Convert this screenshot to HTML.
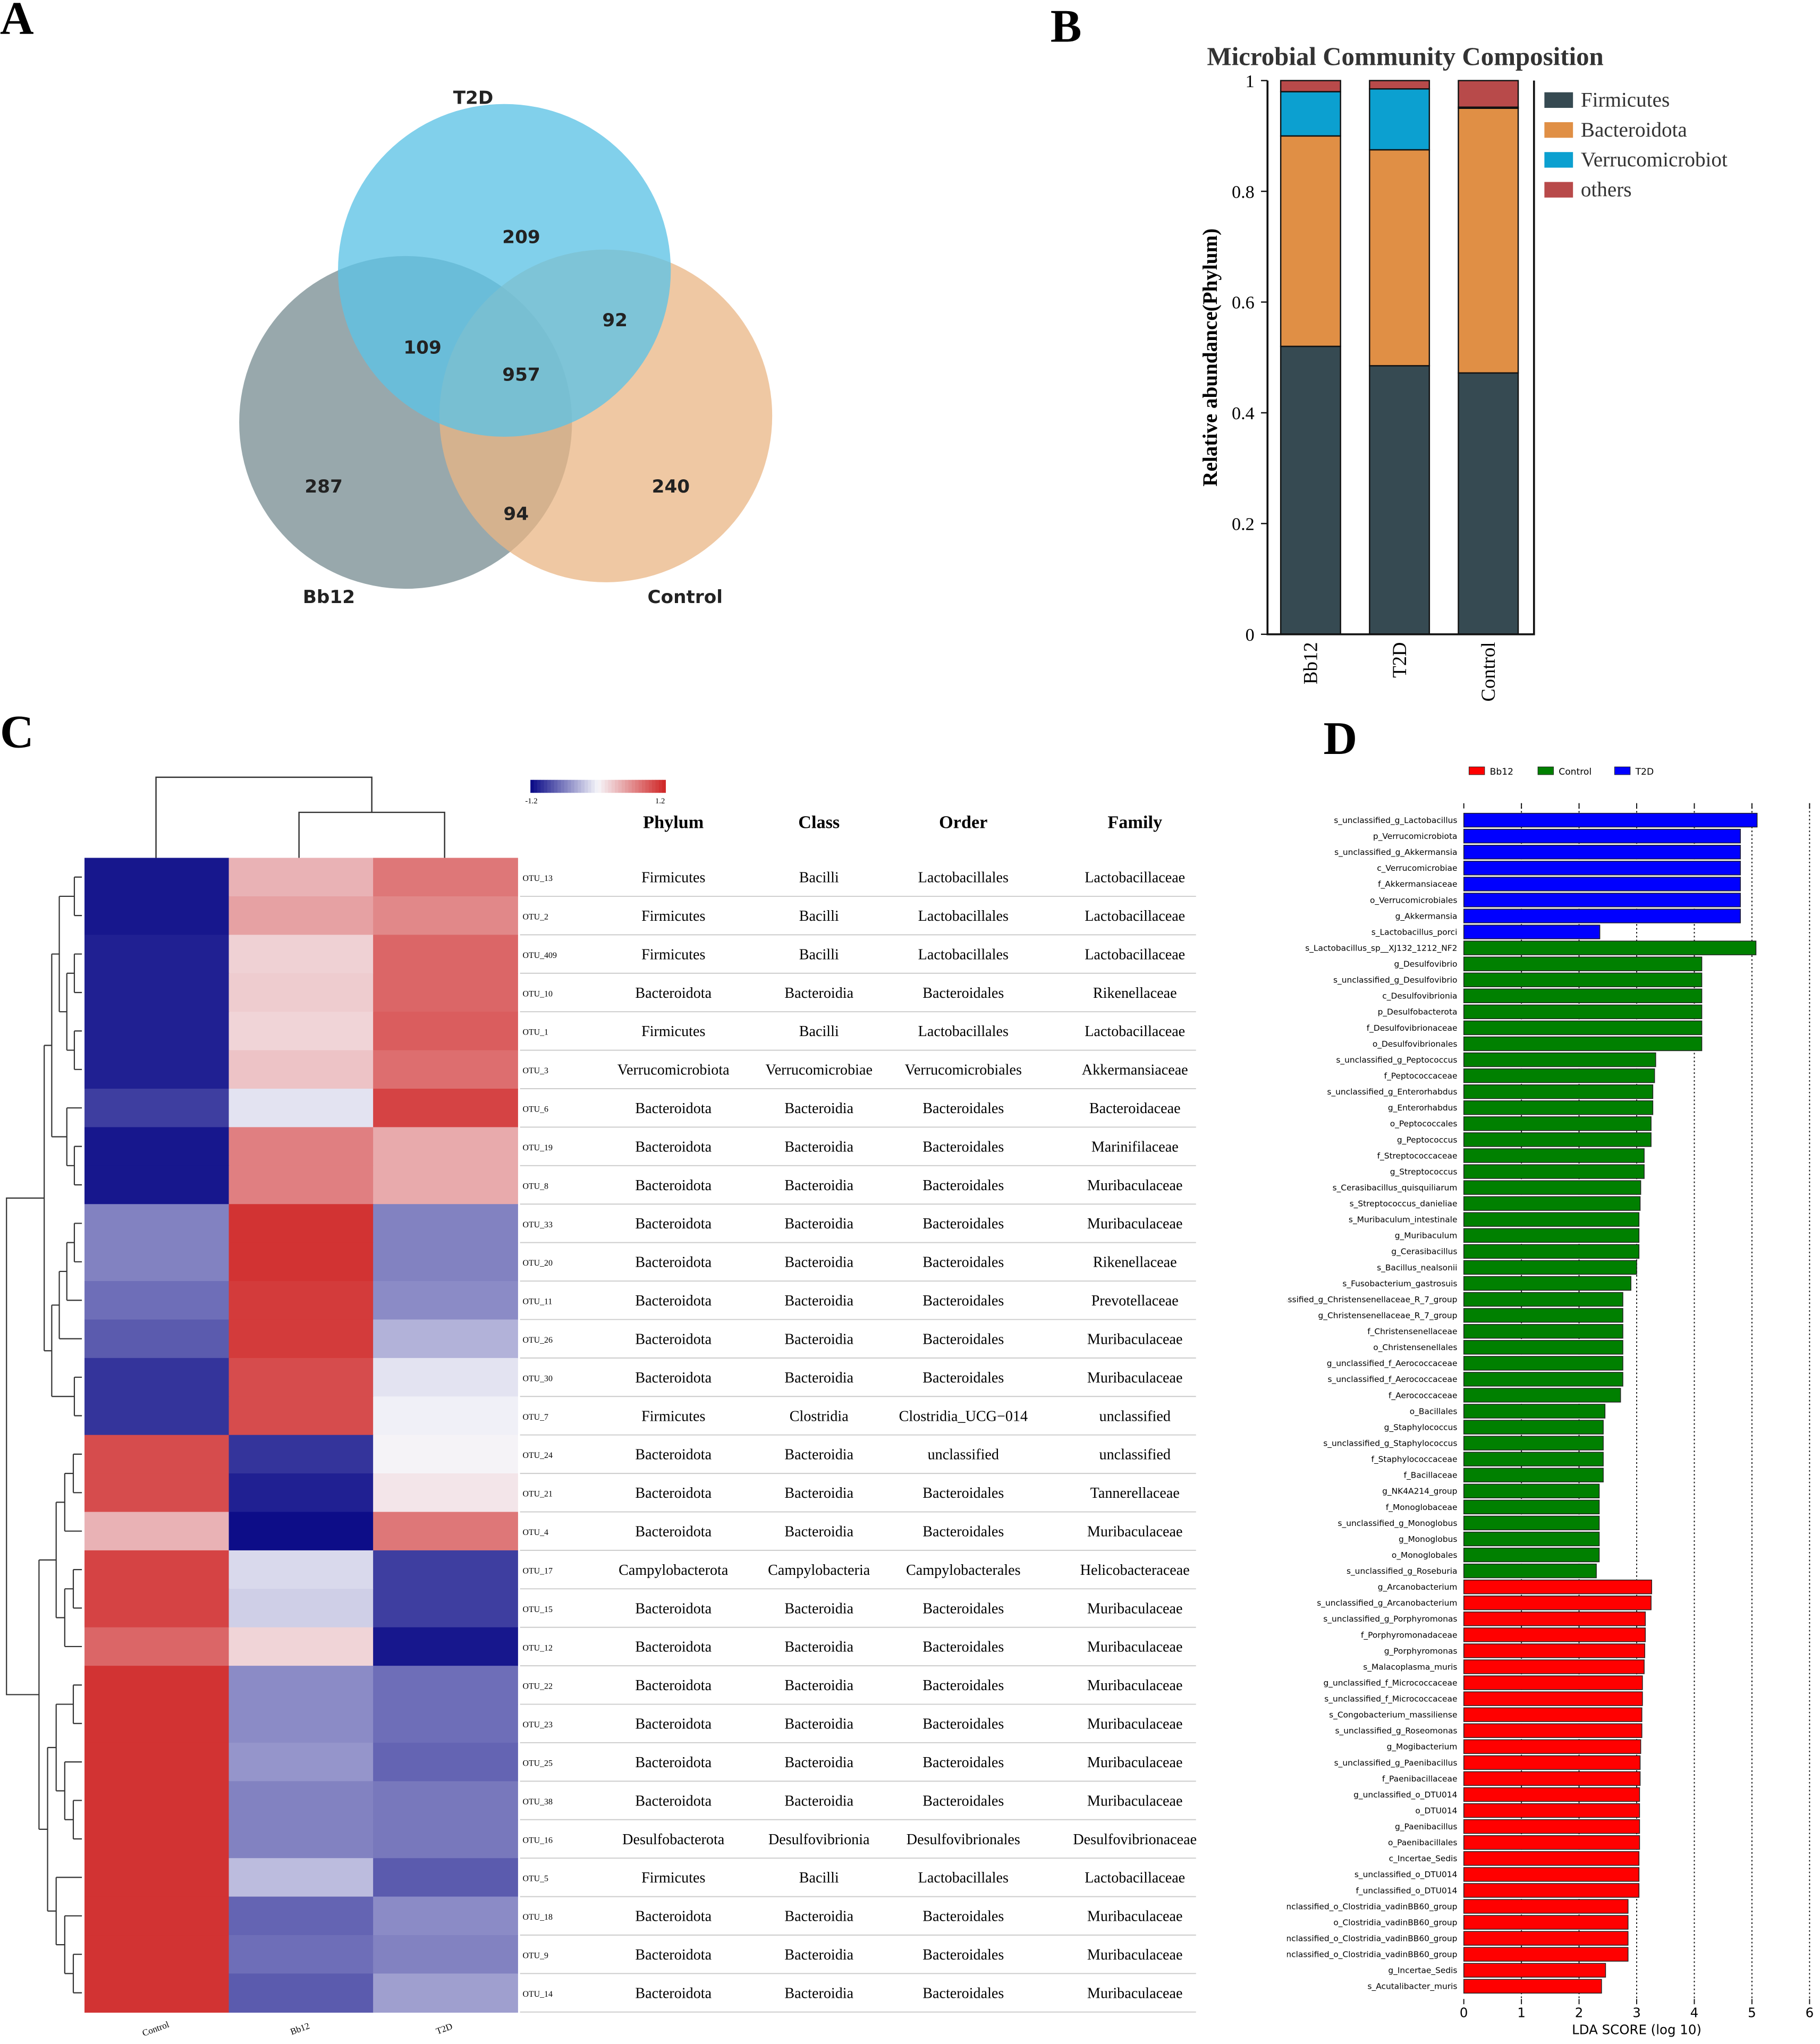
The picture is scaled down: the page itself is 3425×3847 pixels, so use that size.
<!DOCTYPE html>
<html><head><meta charset="utf-8"><style>
html,body{margin:0;padding:0;background:#fff;}
svg{display:block;}
</style></head><body>
<svg id="fig" xmlns="http://www.w3.org/2000/svg" width="3425" height="3847" viewBox="0 0 1400 1572.6" preserveAspectRatio="none">
<defs><clipPath id="ldaclip"><rect x="990" y="600" width="420" height="980"/></clipPath></defs>
<g font-family="Liberation Serif, serif" font-weight="bold" font-size="36" fill="#000">
<text x="0" y="26">A</text>
<text x="808" y="32">B</text>
<text x="0" y="575">C</text>
<text x="1018" y="580">D</text>
</g>
<!-- Venn -->
<g id="venn">
<circle cx="312" cy="325" r="128" fill="#7e9297" fill-opacity="0.8"/>
<circle cx="466" cy="320" r="128" fill="#eab584" fill-opacity="0.75"/>
<circle cx="388" cy="208" r="128" fill="#5ec3e6" fill-opacity="0.78"/>
<g font-family="DejaVu Sans, sans-serif" font-weight="bold" font-size="14" fill="#222" text-anchor="middle">
<text x="364" y="80">T2D</text>
<text x="253" y="464">Bb12</text>
<text x="527" y="464">Control</text>
<text x="401" y="187">209</text>
<text x="325" y="272">109</text>
<text x="473" y="251">92</text>
<text x="401" y="293">957</text>
<text x="249" y="379">287</text>
<text x="516" y="379">240</text>
<text x="397" y="400">94</text>
</g></g>
<g id="stack"></g>
<g id="heat"></g>
<g id="lda"></g>
</svg>
<script>
const NS="http://www.w3.org/2000/svg";
function mk(parent,tag,attrs,text){const e=document.createElementNS(NS,tag);for(const k in attrs)e.setAttribute(k,attrs[k]);if(text!==undefined)e.textContent=text;parent.appendChild(e);return e;}

// ===== Panel B data =====
const stackSamples=["Bb12","T2D","Control"];
const phyla=["Firmicutes","Bacteroidota","Verrucomicrobiota","others"];
const firmicutesVals=[0.52,0.485,0.472];
const bacteroidotaVals=[0.38,0.39,0.478];
const verrucoVals=[0.08,0.11,0.002];
const othersVals=[0.02,0.015,0.048];
const yTicksB=[0,0.2,0.4,0.6,0.8,1];
(function(){
 const g=document.getElementById('stack');
 const x0=975,x1=1180,yb=488,yt=62;
 const ys=v=>yb-(yb-yt)*v;
 const colors=["#364a52","#e08f45","#0ca0d0","#b84a4a"];
 const series=[firmicutesVals,bacteroidotaVals,verrucoVals,othersVals];
 const bw=46, step=(x1-x0)/3;
 stackSamples.forEach((s,i)=>{
  const cx=x0+step*(i+0.5)-1; let acc=0;
  series.forEach((ser,j)=>{
   const r=mk(g,'rect',{x:cx-bw/2,y:ys(acc+ser[i]),width:bw,height:ys(acc)-ys(acc+ser[i]),fill:colors[j],stroke:"#111","stroke-width":1});
   
   
   acc+=ser[i];
  });
  const t=mk(g,'text',{x:0,y:0,transform:`translate(${cx+5},${yb+6}) rotate(-90)`,"text-anchor":"end","font-family":"Liberation Serif, serif","font-size":15},s);
  
  
 });
 const ax=mk(g,'path',{d:`M${x0},${yt} V${yb} H${x1} V${yt}`,fill:"none",stroke:"#111","stroke-width":1.5});
 
 
 yTicksB.forEach(v=>{
  mk(g,'line',{x1:x0-5,x2:x0,y1:ys(v),y2:ys(v),stroke:"#111"});
  const t=mk(g,'text',{x:x0-10,y:ys(v)+5,"text-anchor":"end","font-family":"Liberation Serif, serif","font-size":14},String(v));
  
  
 });
 const yl=mk(g,'text',{x:0,y:0,transform:`translate(936,275) rotate(-90)`,"text-anchor":"middle","font-family":"Liberation Serif, serif","font-weight":"bold","font-size":16},"Relative abundance(Phylum)");
 
 
 const tt=mk(g,'text',{x:1081,y:50,"text-anchor":"middle","font-family":"Liberation Serif, serif","font-weight":"bold","font-size":20,fill:"#333"},"Microbial Community Composition");
 
 
 const legNames=["Firmicutes","Bacteroidota","Verrucomicrobiot","others"];
 legNames.forEach((n,j)=>{
  const y=77+j*23;
  const r=mk(g,'rect',{x:1188,y:y-6,width:22,height:12,fill:colors[j]});
  
  
  const t=mk(g,'text',{x:1216,y:y+5,"font-family":"Liberation Serif, serif","font-size":16,fill:"#333"},n);
  
  
 });
})();

// ===== Panel C data =====
const otuIds=["OTU_13","OTU_2","OTU_409","OTU_10","OTU_1","OTU_3","OTU_6","OTU_19","OTU_8","OTU_33","OTU_20","OTU_11","OTU_26","OTU_30","OTU_7","OTU_24","OTU_21","OTU_4","OTU_17","OTU_15","OTU_12","OTU_22","OTU_23","OTU_25","OTU_38","OTU_16","OTU_5","OTU_18","OTU_9","OTU_14"];
const heatColumns=["Control","Bb12","T2D"];
const controlZ=[-1.15,-1.15,-1.1,-1.1,-1.1,-1.1,-0.95,-1.15,-1.15,-0.6,-0.6,-0.7,-0.8,-1.0,-1.0,1.0,1.0,0.4,1.05,1.05,0.85,1.15,1.15,1.15,1.15,1.15,1.15,1.15,1.15,1.15];
const bb12Z=[0.4,0.5,0.22,0.25,0.2,0.3,-0.1,0.7,0.7,1.15,1.15,1.1,1.1,1.0,1.0,-1.0,-1.1,-1.2,-0.15,-0.2,0.2,-0.55,-0.55,-0.5,-0.6,-0.6,-0.3,-0.75,-0.7,-0.8];
const t2dZ=[0.75,0.65,0.85,0.85,0.9,0.8,1.05,0.45,0.45,-0.6,-0.6,-0.55,-0.35,-0.1,-0.03,0.02,0.1,0.75,-0.95,-0.95,-1.15,-0.7,-0.7,-0.75,-0.65,-0.65,-0.8,-0.55,-0.6,-0.45];
const phylumCol=["Firmicutes","Firmicutes","Firmicutes","Bacteroidota","Firmicutes","Verrucomicrobiota","Bacteroidota","Bacteroidota","Bacteroidota","Bacteroidota","Bacteroidota","Bacteroidota","Bacteroidota","Bacteroidota","Firmicutes","Bacteroidota","Bacteroidota","Bacteroidota","Campylobacterota","Bacteroidota","Bacteroidota","Bacteroidota","Bacteroidota","Bacteroidota","Bacteroidota","Desulfobacterota","Firmicutes","Bacteroidota","Bacteroidota","Bacteroidota"];
const classCol=["Bacilli","Bacilli","Bacilli","Bacteroidia","Bacilli","Verrucomicrobiae","Bacteroidia","Bacteroidia","Bacteroidia","Bacteroidia","Bacteroidia","Bacteroidia","Bacteroidia","Bacteroidia","Clostridia","Bacteroidia","Bacteroidia","Bacteroidia","Campylobacteria","Bacteroidia","Bacteroidia","Bacteroidia","Bacteroidia","Bacteroidia","Bacteroidia","Desulfovibrionia","Bacilli","Bacteroidia","Bacteroidia","Bacteroidia"];
const orderCol=["Lactobacillales","Lactobacillales","Lactobacillales","Bacteroidales","Lactobacillales","Verrucomicrobiales","Bacteroidales","Bacteroidales","Bacteroidales","Bacteroidales","Bacteroidales","Bacteroidales","Bacteroidales","Bacteroidales","Clostridia_UCG−014","unclassified","Bacteroidales","Bacteroidales","Campylobacterales","Bacteroidales","Bacteroidales","Bacteroidales","Bacteroidales","Bacteroidales","Bacteroidales","Desulfovibrionales","Lactobacillales","Bacteroidales","Bacteroidales","Bacteroidales"];
const familyCol=["Lactobacillaceae","Lactobacillaceae","Lactobacillaceae","Rikenellaceae","Lactobacillaceae","Akkermansiaceae","Bacteroidaceae","Marinifilaceae","Muribaculaceae","Muribaculaceae","Rikenellaceae","Prevotellaceae","Muribaculaceae","Muribaculaceae","unclassified","unclassified","Tannerellaceae","Muribaculaceae","Helicobacteraceae","Muribaculaceae","Muribaculaceae","Muribaculaceae","Muribaculaceae","Muribaculaceae","Muribaculaceae","Desulfovibrionaceae","Lactobacillaceae","Muribaculaceae","Muribaculaceae","Muribaculaceae"];
// row dendrogram: nested row indices
const rowTree=[[[[0,1],[[2,3],[4,5]]],[[6],[7,8]]],[[[[9,10],11],12],[13,14]]];
const rowTreeLower=[[[[15,16],17],[[18,19],20]],[[[21,22],[23,[24,25]]],[26,[27,[28,29]]]]];
(function(){
 const g=document.getElementById('heat');
 const hx=65, cw=111, hy=660, rh=29.6;
 function col(v){
  const t=Math.max(-1,Math.min(1,v/1.2));
  const b=[13,13,136], w=[246,246,250], r=[208,42,42];
  const a=t<0?b:r, f=Math.abs(t);
  const c=w.map((wv,i)=>Math.round(wv+(a[i]-wv)*f));
  return `rgb(${c})`;
 }
 const cols=[controlZ,bb12Z,t2dZ];
 otuIds.forEach((id,i)=>{
  cols.forEach((c,j)=>{
   const r=mk(g,'rect',{x:hx+j*cw,y:hy+i*rh,width:cw+0.5,height:rh+0.5,fill:col(c[i])});
   
   
  });
  const cy=hy+(i+0.5)*rh;
  const t=mk(g,'text',{x:402,y:cy+3,"font-family":"Liberation Serif, serif","font-size":6.5},id);
  
  
  const cells=[[phylumCol,518],[classCol,630],[orderCol,741],[familyCol,873]];
  cells.forEach(([arr,x])=>{
   const tt=mk(g,'text',{x:x,y:cy+4,"text-anchor":"middle","font-family":"Liberation Serif, serif","font-size":11.5},arr[i]);
   
   
  });
  const ln=mk(g,'line',{x1:400,x2:920,y1:hy+(i+1)*rh,y2:hy+(i+1)*rh,stroke:"#ccc","stroke-width":0.8});
  
  
 });
 [["Phylum",518],["Class",630],["Order",741],["Family",873]].forEach(([h,x])=>{
  const t=mk(g,'text',{x:x,y:637,"text-anchor":"middle","font-family":"Liberation Serif, serif","font-weight":"bold","font-size":14},h);
  
  
 });
 heatColumns.forEach((c,j)=>{
  const cx=hx+(j+0.5)*cw;
  const t=mk(g,'text',{x:0,y:0,transform:`translate(${cx},1563) rotate(-20)`,"text-anchor":"middle","font-family":"Liberation Serif, serif","font-size":7},c);
  
  
 });
 // colorbar
 for(let k=0;k<40;k++){
  const v=-1.2+2.4*k/39;
  mk(g,'rect',{x:408+k*2.6,y:600,width:2.8,height:10,fill:col(v)});
 }
 const t1=mk(g,'text',{x:404,y:618,"font-family":"Liberation Serif, serif","font-size":6},"-1.2");
 
 const t2=mk(g,'text',{x:504,y:618,"font-family":"Liberation Serif, serif","font-size":6},"1.2");
 
 // column dendrogram
 const dp=mk(g,'path',{d:"M120,660 V598 H286 V625 M230,660 V625 H342 V660",fill:"none",stroke:"#333","stroke-width":1});
 
 
 // row dendrogram
 let d="";
 function depth(n){return Array.isArray(n)?1+Math.max(...n.map(depth)):0;}
 function draw(n,xr,xmin,dmax){
  if(!Array.isArray(n)) return [hy+(n+0.5)*rh, 63];
  if(n.length===1) return draw(n[0],xr,xmin,dmax);
  const dp=depth(n);
  const x=63-(63-xmin)*dp/dmax;
  const ch=n.map(c=>draw(c,xr,xmin,dmax));
  ch.forEach(([y,cx])=>{d+=`M${cx},${y} H${x} `;});
  d+=`M${x},${ch[0][0]} V${ch[ch.length-1][0]} `;
  return [(ch[0][0]+ch[ch.length-1][0])/2,x];
 }
 const up=draw(rowTree,0,34,depth(rowTree));
 const lo=draw(rowTreeLower,0,30,depth(rowTreeLower));
 d+=`M${up[1]},${up[0]} H5 V${lo[0]} H${lo[1]}`;
 const rp=mk(g,'path',{d:d,fill:"none",stroke:"#333","stroke-width":0.9});
 
 
})();

// ===== Panel D data =====
const ldaFeatures=["s_unclassified_g_Lactobacillus","p_Verrucomicrobiota","s_unclassified_g_Akkermansia","c_Verrucomicrobiae","f_Akkermansiaceae","o_Verrucomicrobiales","g_Akkermansia","s_Lactobacillus_porci",
"s_Lactobacillus_sp__XJ132_1212_NF2","g_Desulfovibrio","s_unclassified_g_Desulfovibrio","c_Desulfovibrionia","p_Desulfobacterota","f_Desulfovibrionaceae","o_Desulfovibrionales","s_unclassified_g_Peptococcus","f_Peptococcaceae","s_unclassified_g_Enterorhabdus","g_Enterorhabdus","o_Peptococcales","g_Peptococcus","f_Streptococcaceae","g_Streptococcus","s_Cerasibacillus_quisquiliarum","s_Streptococcus_danieliae","s_Muribaculum_intestinale","g_Muribaculum","g_Cerasibacillus","s_Bacillus_nealsonii","s_Fusobacterium_gastrosuis","s_unclassified_g_Christensenellaceae_R_7_group","g_Christensenellaceae_R_7_group","f_Christensenellaceae","o_Christensenellales","g_unclassified_f_Aerococcaceae","s_unclassified_f_Aerococcaceae","f_Aerococcaceae","o_Bacillales","g_Staphylococcus","s_unclassified_g_Staphylococcus","f_Staphylococcaceae","f_Bacillaceae","g_NK4A214_group","f_Monoglobaceae","s_unclassified_g_Monoglobus","g_Monoglobus","o_Monoglobales","s_unclassified_g_Roseburia",
"g_Arcanobacterium","s_unclassified_g_Arcanobacterium","s_unclassified_g_Porphyromonas","f_Porphyromonadaceae","g_Porphyromonas","s_Malacoplasma_muris","g_unclassified_f_Micrococcaceae","s_unclassified_f_Micrococcaceae","s_Congobacterium_massiliense","s_unclassified_g_Roseomonas","g_Mogibacterium","s_unclassified_g_Paenibacillus","f_Paenibacillaceae","g_unclassified_o_DTU014","o_DTU014","g_Paenibacillus","o_Paenibacillales","c_Incertae_Sedis","s_unclassified_o_DTU014","f_unclassified_o_DTU014","s_unclassified_o_Clostridia_vadinBB60_group","o_Clostridia_vadinBB60_group","g_unclassified_o_Clostridia_vadinBB60_group","f_unclassified_o_Clostridia_vadinBB60_group","g_Incertae_Sedis","s_Acutalibacter_muris"];
const ldaScores=[5.09,4.8,4.8,4.8,4.8,4.8,4.8,2.36,
5.07,4.13,4.13,4.13,4.13,4.13,4.13,3.33,3.31,3.28,3.28,3.25,3.25,3.13,3.13,3.07,3.06,3.04,3.04,3.04,3.0,2.9,2.76,2.76,2.76,2.76,2.76,2.76,2.72,2.45,2.42,2.42,2.42,2.42,2.35,2.35,2.35,2.35,2.35,2.3,
3.26,3.25,3.15,3.15,3.14,3.13,3.1,3.1,3.09,3.09,3.07,3.06,3.06,3.05,3.05,3.05,3.05,3.04,3.04,3.04,2.85,2.85,2.85,2.85,2.46,2.39];
const ldaGroups=["T2D","T2D","T2D","T2D","T2D","T2D","T2D","T2D"].concat(Array(40).fill("Control"),Array(26).fill("Bb12"));
const ldaTicks=[0,1,2,3,4,5,6];
(function(){
 const g=document.getElementById('lda');
 const x0=1126, unit=44.33, y0=631, step=12.29, bh=10.6;
 const xs=v=>x0+v*unit;
 const gc={T2D:"#0000ff",Control:"#008000",Bb12:"#ff0000"};
 ldaTicks.forEach(v=>{
  if(v>0){const l=mk(g,'line',{x1:xs(v),x2:xs(v),y1:618,y2:1538,stroke:"#111","stroke-width":0.8,"stroke-dasharray":"1.2,1.8"});
  }
  mk(g,'line',{x1:xs(v),x2:xs(v),y1:1538,y2:1542,stroke:"#111","stroke-width":0.8});
  mk(g,'line',{x1:xs(v),x2:xs(v),y1:618,y2:622,stroke:"#111","stroke-width":0.8});
  const t=mk(g,'text',{x:xs(v),y:1552,"text-anchor":"middle","font-family":"DejaVu Sans, sans-serif","font-size":10},String(v));
  
 });
 const xt=mk(g,'text',{x:xs(3),y:1565,"text-anchor":"middle","font-family":"DejaVu Sans, sans-serif","font-size":10},"LDA SCORE (log 10)");
 
 const lab=mk(g,'g',{"clip-path":"url(#ldaclip)"});
 ldaFeatures.forEach((f,i)=>{
  const cy=y0+i*step;
  const r=mk(g,'rect',{x:x0,y:cy-bh/2,width:xs(ldaScores[i])-x0,height:bh,fill:gc[ldaGroups[i]],stroke:"#222","stroke-width":0.6});
  
  
  const t=mk(lab,'text',{x:1121,y:cy+2.2,"text-anchor":"end","font-family":"DejaVu Sans, sans-serif","font-size":6.3},f);
  
 });
 [["Bb12",1130],["Control",1183],["T2D",1242]].forEach(([n,x])=>{
  const r=mk(g,'rect',{x:x,y:590,width:12,height:6,fill:gc[n],stroke:"#222","stroke-width":0.4});
  
  const t=mk(g,'text',{x:x+16,y:596,"font-family":"DejaVu Sans, sans-serif","font-size":7},n);
  
 });
})();
</script>
</body></html>
